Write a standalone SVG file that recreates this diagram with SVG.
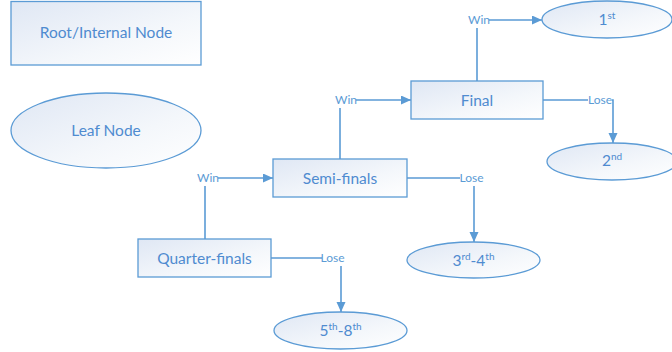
<svg xmlns="http://www.w3.org/2000/svg" width="672" height="352" viewBox="0 0 672 352">
<defs>
<linearGradient id="g" x1="0" y1="0" x2="1" y2="1">
<stop offset="0" stop-color="#dfe7f4"/>
<stop offset="0.6" stop-color="#f4f7fb"/>
<stop offset="1" stop-color="#ffffff"/>
</linearGradient>
<marker id="arr" markerUnits="userSpaceOnUse" markerWidth="11" markerHeight="10" refX="10" refY="4.5" orient="auto">
<path d="M0,0 L10,4.5 L0,9 Z" fill="#5b9bd5"/>
</marker>
<style>
.box{fill:url(#g);stroke:#5b9bd5;stroke-width:1.3}
.t{font-family:Lato,"Liberation Sans",sans-serif;font-size:15.5px;fill:#4f8bd0;text-anchor:middle}
.c{fill:none;stroke:#5b9bd5;stroke-width:1.6;marker-end:url(#arr)}
.lb{fill:#ffffff}
.l{font-family:Lato,"Liberation Sans",sans-serif;font-size:12px;fill:#5b9bd5;text-anchor:middle}
</style>
</defs>
<rect width="672" height="352" fill="#ffffff"/>
<g id="connectors">
<path class="c" d="M205,239 V178 H273"/>
<path class="c" d="M340,159 V100 H411"/>
<path class="c" d="M477,81 V20 H542"/>
<path class="c" d="M543,100 H613 V143"/>
<path class="c" d="M407,178 H474 V242"/>
<path class="c" d="M271,258 H341 V312"/>
<rect class="lb" x="198" y="170" width="20" height="16"/>
<text class="l" x="208" y="182">Win</text>
<rect class="lb" x="336" y="92" width="20" height="16"/>
<text class="l" x="346" y="104">Win</text>
<rect class="lb" x="469" y="12" width="20" height="16"/>
<text class="l" x="479" y="24">Win</text>
<rect class="lb" x="588" y="92" width="24" height="16"/>
<text class="l" x="600" y="104">Lose</text>
<rect class="lb" x="460" y="170" width="23" height="16"/>
<text class="l" x="471.5" y="182">Lose</text>
<rect class="lb" x="322" y="250" width="21" height="16"/>
<text class="l" x="332.5" y="262">Lose</text>
</g>
<g id="legend-internal">
<rect class="box" x="11" y="1.5" width="190" height="63.5"/>
<text class="t" x="106" y="38">Root/Internal Node</text>
</g>
<g id="legend-leaf">
<ellipse class="box" cx="106" cy="130.5" rx="95" ry="37.5"/>
<text class="t" x="106" y="136">Leaf Node</text>
</g>
<g id="quarter-finals">
<rect class="box" x="138" y="239" width="133" height="38"/>
<text class="t" x="204.5" y="263.5">Quarter-finals</text>
</g>
<g id="semi-finals">
<rect class="box" x="273" y="159" width="134" height="38"/>
<text class="t" x="340" y="183.5">Semi-finals</text>
</g>
<g id="final">
<rect class="box" x="411" y="81" width="132" height="38"/>
<text class="t" x="477" y="105.5">Final</text>
</g>
<g id="first">
<ellipse class="box" cx="607" cy="19.5" rx="65" ry="18.5"/>
<text class="t" x="607" y="25">1<tspan font-size="10" dy="-6">st</tspan></text>
</g>
<g id="second">
<ellipse class="box" cx="612" cy="161.5" rx="65" ry="18.5"/>
<text class="t" x="612" y="166">2<tspan font-size="10" dy="-6">nd</tspan></text>
</g>
<g id="third-fourth">
<ellipse class="box" cx="473.5" cy="260" rx="66.5" ry="18"/>
<text class="t" x="473.5" y="265.5">3<tspan font-size="10" dy="-6">rd</tspan><tspan dy="6">-4</tspan><tspan font-size="10" dy="-6">th</tspan></text>
</g>
<g id="fifth-eighth">
<ellipse class="box" cx="340.5" cy="330.5" rx="66.5" ry="18.5"/>
<text class="t" x="340.5" y="336">5<tspan font-size="10" dy="-6">th</tspan><tspan dy="6">-8</tspan><tspan font-size="10" dy="-6">th</tspan></text>
</g>
</svg>
